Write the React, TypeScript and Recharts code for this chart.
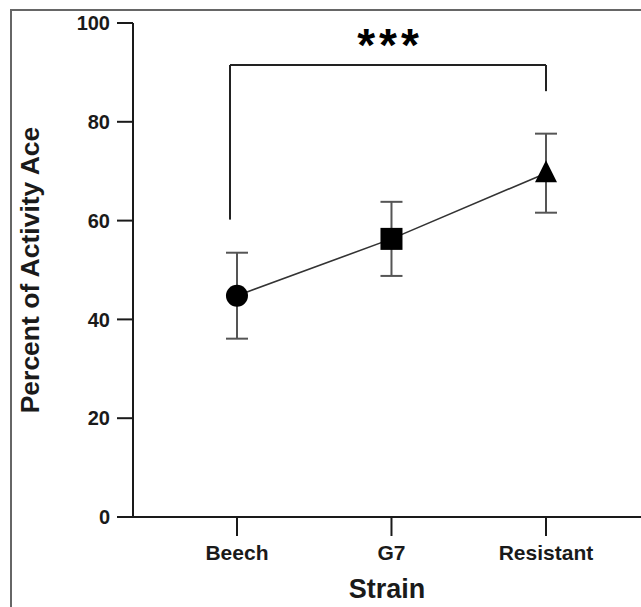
import {
  LineChart,
  Line,
  XAxis,
  YAxis,
  ErrorBar,
  ReferenceLine,
} from "recharts";

// strains on the x axis, plotted at index positions 0..2
const strains = ["Beech", "G7", "Resistant"];
const meanActivity = [44.8, 56.3, 69.6];
const sdActivity = [8.7, 7.5, 8.0];
const markers = ["circle", "square", "triangle"];
const yTicks = [0, 20, 40, 60, 80, 100];

// significance bracket (x in strain index units, y in percent)
const bracketLeftX = -0.045;
const bracketRightX = 2;
const bracketTopY = 91.5;
const bracketLeftFoot = 60.2;
const bracketRightFoot = 86.2;
const bracketStars = "***";

const data = strains.map((strain, i) => ({
  idx: i,
  strain,
  mean: meanActivity[i],
  sd: sdActivity[i],
  marker: markers[i],
}));

const FONT = '"Liberation Sans", Arial, Helvetica, sans-serif';
const INK = "#1a1a1a";

function MarkerDot(props: any) {
  const { cx, cy, payload, index } = props;
  if (cx == null || cy == null) return <g key={index} />;
  if (payload.marker === "square") {
    return <rect key={index} x={cx - 11} y={cy - 11} width={22} height={22} fill="#000" />;
  }
  if (payload.marker === "triangle") {
    return (
      <path
        key={index}
        d={`M${cx},${cy - 13} L${cx + 11},${cy + 9} L${cx - 11},${cy + 9} Z`}
        fill="#000"
      />
    );
  }
  return <circle key={index} cx={cx} cy={cy} r={11} fill="#000" />;
}

export default function App() {
  return (
    <div
      style={{
        position: "absolute",
        left: 0,
        top: 0,
        width: 641,
        height: 607,
        background: "#fff",
        overflow: "hidden",
      }}
    >
      <div
        style={{
          position: "absolute",
          left: 10,
          top: 9,
          right: -4,
          bottom: -4,
          borderTop: "2px solid #666",
          borderLeft: "2px solid #666",
        }}
      />
      <LineChart
        width={641}
        height={607}
        data={data}
        margin={{ top: 23, right: 0, left: 0, bottom: 0 }}
        style={{ position: "absolute", left: 0, top: 0 }}
      >
        <XAxis
          dataKey="idx"
          type="number"
          domain={[-0.673, 2.615]}
          ticks={[0, 1, 2]}
          tickFormatter={(v: number) => strains[v] ?? ""}
          height={90}
          tickSize={19}
          tickMargin={9}
          axisLine={{ stroke: INK, strokeWidth: 2 }}
          tickLine={{ stroke: INK, strokeWidth: 2 }}
          tick={{ fontSize: 21, fontWeight: 700, fill: INK, fontFamily: FONT }}
          label={{
            value: "Strain",
            position: "insideBottom",
            offset: 9,
            style: { fontSize: 27, fontWeight: 700, fill: INK, fontFamily: FONT },
          }}
        />
        <YAxis
          domain={[0, 100]}
          ticks={yTicks}
          width={133}
          tickSize={16}
          tickMargin={7}
          axisLine={{ stroke: INK, strokeWidth: 2 }}
          tickLine={{ stroke: INK, strokeWidth: 2 }}
          tick={{ fontSize: 20, fontWeight: 700, fill: INK, fontFamily: FONT }}
          label={{
            value: "Percent of Activity Ace",
            angle: -90,
            position: "insideLeft",
            offset: 30,
            style: {
              fontSize: 26.5,
              fontWeight: 700,
              fill: INK,
              fontFamily: FONT,
              textAnchor: "middle",
            },
          }}
        />
        <ReferenceLine
          segment={[
            { x: bracketLeftX, y: bracketLeftFoot },
            { x: bracketLeftX, y: bracketTopY },
          ]}
          stroke="#222"
          strokeWidth={2}
        />
        <ReferenceLine
          segment={[
            { x: bracketLeftX, y: bracketTopY },
            { x: bracketRightX, y: bracketTopY },
          ]}
          stroke="#222"
          strokeWidth={2}
          label={(props: any) => {
            const vb = props.viewBox || {};
            const cx = vb.x + (vb.width || 0) / 2;
            return (
              <text
                x={cx + 2}
                y={vb.y - 4}
                textAnchor="middle"
                fontSize={46}
                fontWeight={700}
                fontFamily={FONT}
                fill="#000"
                letterSpacing={4}
              >
                {bracketStars}
              </text>
            );
          }}
        />
        <ReferenceLine
          segment={[
            { x: bracketRightX, y: bracketTopY },
            { x: bracketRightX, y: bracketRightFoot },
          ]}
          stroke="#222"
          strokeWidth={2}
        />
        <Line
          dataKey="mean"
          type="linear"
          stroke="#333"
          strokeWidth={1.6}
          dot={(p: any) => <MarkerDot {...p} />}
          activeDot={false}
          isAnimationActive={false}
        >
          <ErrorBar dataKey="sd" width={11} stroke="#555" strokeWidth={2} direction="y" />
        </Line>
      </LineChart>
    </div>
  );
}
